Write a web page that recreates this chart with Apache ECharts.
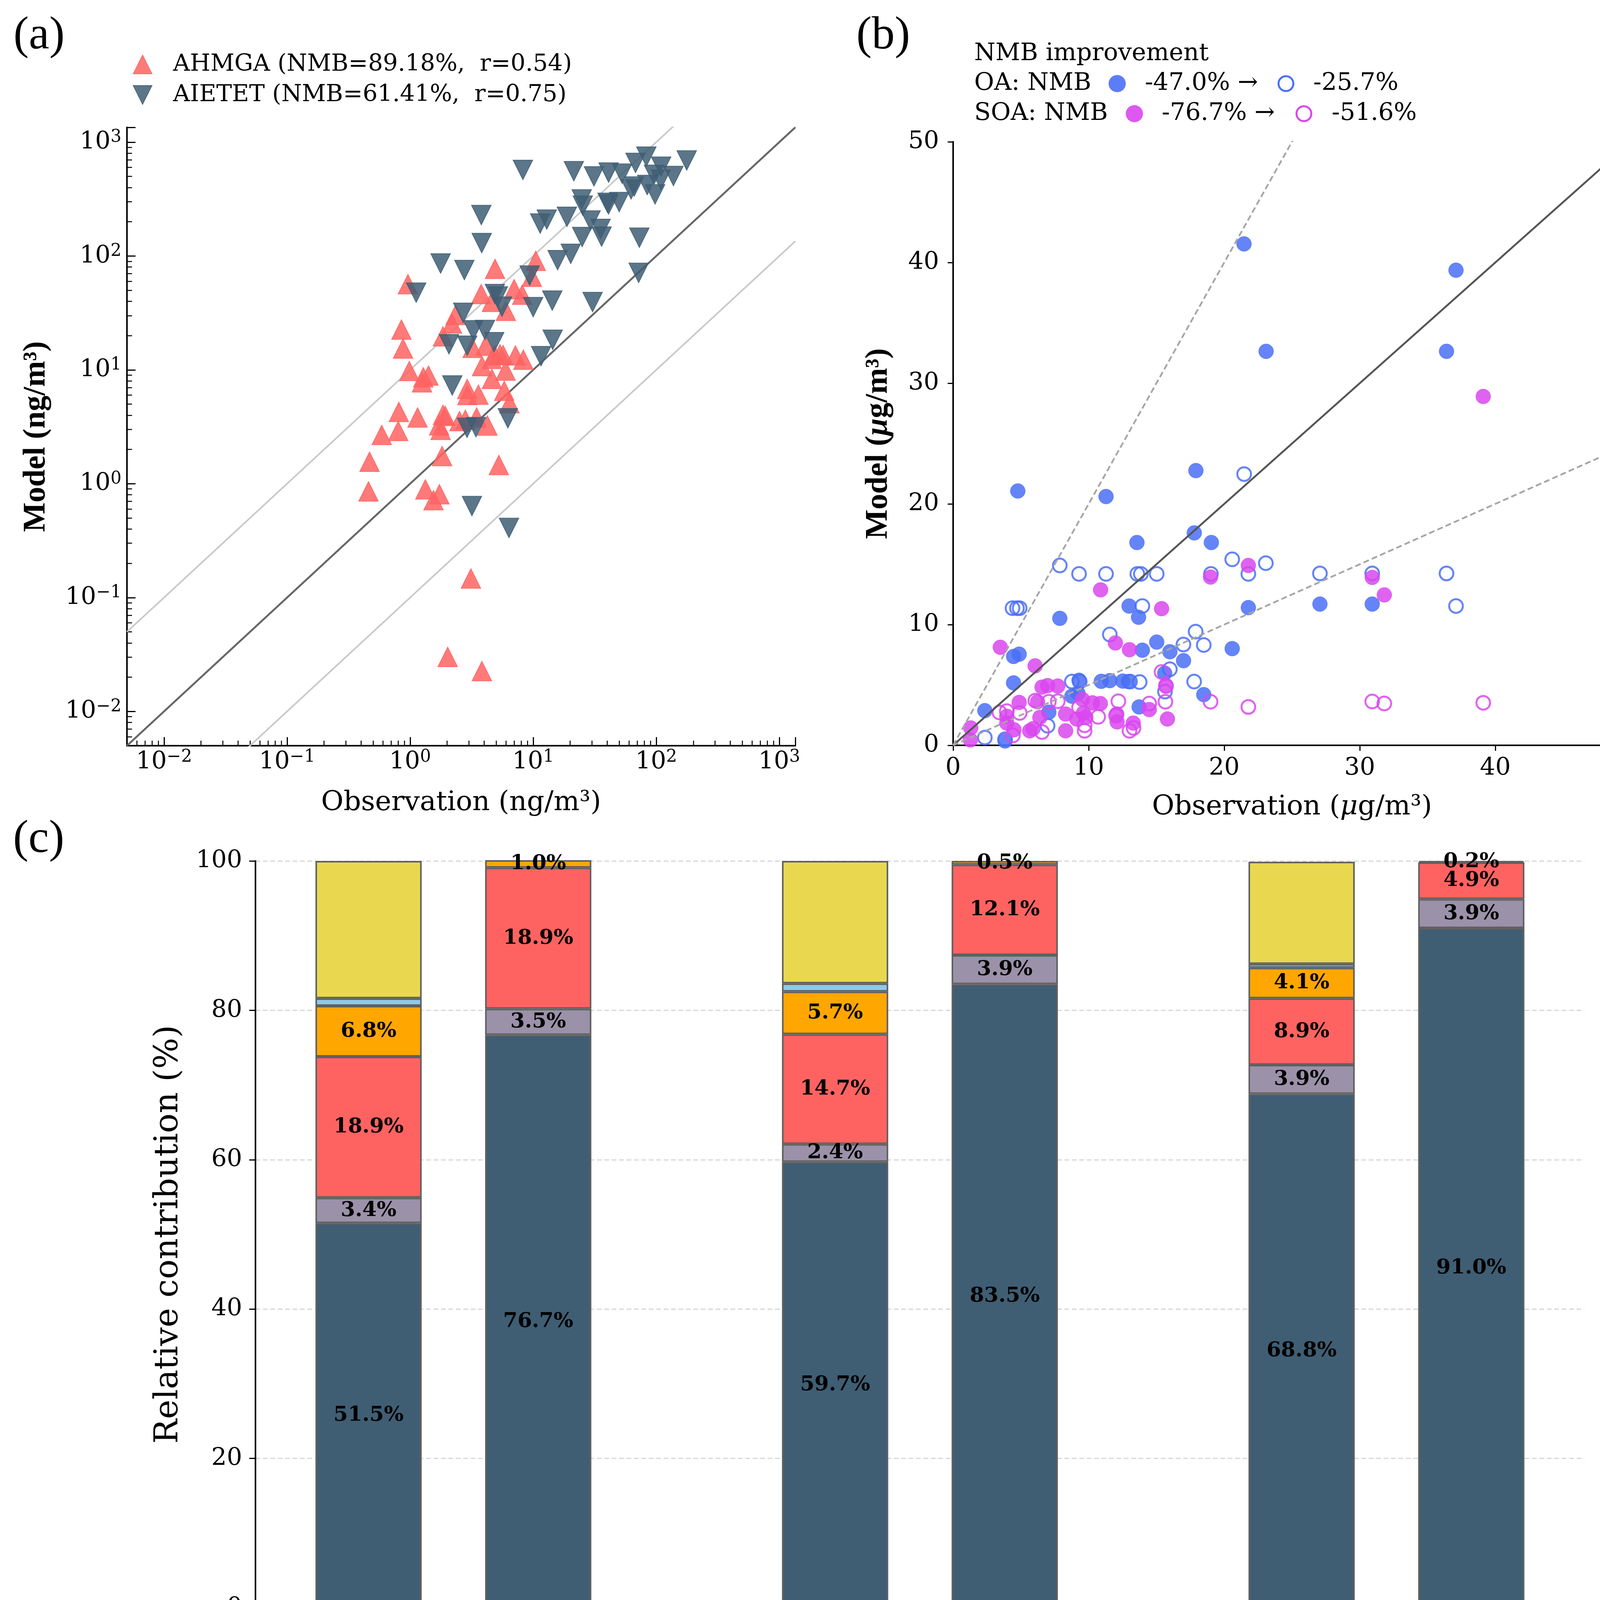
<!DOCTYPE html>
<html><head><meta charset="utf-8">
<script src="https://cdn.jsdelivr.net/npm/echarts@6/dist/echarts.min.js"></script>
<style>html,body{margin:0;padding:0;background:#fff}#main{width:4252px;height:4566px}</style>
</head><body><div id="main"></div>
<script>
// ================= DATA =================
// Panel (a): observation vs model (ng/m3)
const AHMGA_LABEL = 'AHMGA (NMB=89.18%,  r=0.54)';
const AIETET_LABEL = 'AIETET (NMB=61.41%,  r=0.75)';
const AHMGA_OBS = [10.5,4.90,0.96,9.76,7.00,8.14,3.78,4.62,6.00,2.34,2.19,1.85,0.85,0.876,3.22,4.11,4.86,5.37,5.70,7.18,8.32,3.84,4.62,5.97,4.62,0.985,1.28,1.41,1.25,2.91,2.92,3.59,5.82,0.81,1.15,1.85,1.93,0.80,0.588,1.72,1.77,2.81,3.47,4.25,6.41,0.468,1.82,5.26,2.52,0.459,1.33,1.73,1.55,3.12,2.02,3.83];
const AHMGA_MOD = [90.8,77.1,56.6,65.8,51.2,45.7,46.4,39.6,33.0,30.4,25.6,19.7,22.6,15.4,15.6,16.3,13.5,13.7,13.5,13.4,12.3,10.8,12.5,9.86,8.33,9.77,8.60,8.92,7.78,6.80,6.01,6.06,6.55,4.27,3.82,4.03,3.94,2.91,2.68,3.26,2.97,3.65,3.82,3.24,5.10,1.56,1.75,1.46,3.55,0.856,0.893,0.809,0.717,0.147,0.0301,0.0226];
const AIETET_OBS = [8.25,21.4,31.2,41.0,52.8,67.9,83.1,109.6,177,95.9,138,109,66.2,62.5,84.5,97.9,24.8,25.3,40.2,50.0,41.0,3.79,11.4,12.9,18.8,29.3,35.3,36.0,25.0,72.9,3.82,20.2,15.8,1.77,2.76,9.36,72.0,1.12,4.88,5.17,5.58,10.0,14.3,30.4,2.70,3.26,4.06,2.07,2.91,4.82,14.4,11.6,2.20,2.90,3.43,6.23,3.18,6.36];
const AIETET_MOD = [571,556,501,541,529,658,747,609,691,517,505,468,408,385,421,348,314,277,293,298,284,229,193,209,221,205,173,148,147,145,130,104.5,92.0,86.0,75.4,67.3,71.1,47.7,46.4,44.1,35.9,35.6,40.6,39.4,31.7,22.3,22.4,16.8,16.3,17.5,18.4,13.2,7.30,3.10,3.14,3.76,0.637,0.409];

// Panel (b): [observation, model] in ug/m3
const OA_BASE = [[4.77,21.07],[11.28,20.61],[17.91,22.76],[17.79,17.60],[13.56,16.80],[19.05,16.80],[12.98,11.54],[13.68,10.61],[7.87,10.52],[21.78,11.41],[4.46,7.36],[4.87,7.55],[13.96,7.88],[15.02,8.55],[15.99,7.75],[17.0,7.01],[20.59,8.01],[4.46,5.17],[15.61,5.97],[2.34,2.87],[8.76,4.07],[9.29,5.39],[9.21,4.30],[10.93,5.30],[11.56,5.36],[12.52,5.32],[12.93,5.28],[13.72,3.18],[18.49,4.20],[7.06,2.74],[3.83,0.36],[27.06,11.70],[30.92,11.70],[21.46,41.54],[37.10,39.36],[23.09,32.64],[36.40,32.64]];
const OA_UPD = [[21.47,22.47],[7.87,14.90],[9.29,14.20],[11.28,14.20],[13.59,14.20],[13.85,14.20],[15.02,14.20],[19.02,14.20],[20.59,15.41],[21.78,14.20],[23.07,15.09],[4.38,11.36],[4.71,11.36],[4.91,11.36],[13.96,11.54],[11.56,9.18],[17.89,9.42],[16.99,8.35],[18.49,8.31],[15.99,6.30],[15.63,4.45],[8.76,5.28],[9.34,5.28],[13.05,5.28],[13.76,5.24],[17.78,5.28],[6.97,1.62],[2.34,0.64],[3.83,0.50],[27.06,14.24],[30.92,14.24],[36.40,14.24],[37.10,11.54]];
const SOA_BASE = [[10.88,12.88],[15.38,11.32],[18.99,13.94],[21.78,14.90],[3.48,8.12],[6.05,6.58],[11.97,8.48],[13.01,7.92],[15.69,4.97],[15.81,2.18],[14.47,2.96],[1.30,1.44],[1.27,0.45],[6.56,4.82],[6.97,4.95],[7.72,4.91],[4.87,3.55],[3.96,2.40],[3.96,1.84],[4.49,1.29],[5.65,1.20],[5.90,1.38],[6.23,3.61],[6.40,2.31],[8.30,2.59],[8.30,1.20],[9.12,2.18],[9.54,3.80],[10.28,3.52],[10.86,3.46],[9.62,2.68],[9.79,2.31],[12.10,1.94],[12.07,2.59],[13.29,1.84],[30.92,13.91],[31.81,12.46],[39.11,28.90]];
const SOA_UPD = [[15.38,6.08],[15.66,3.61],[18.99,3.61],[21.78,3.18],[14.47,3.46],[12.19,3.65],[7.72,3.65],[7.06,3.61],[6.06,3.70],[4.91,2.68],[3.42,2.72],[3.96,2.83],[10.70,2.36],[9.70,1.20],[9.70,1.66],[6.56,1.10],[4.41,0.82],[13.01,1.20],[13.31,1.44],[12.02,2.46],[9.29,3.14],[15.71,4.91],[30.92,3.63],[31.81,3.47],[39.11,3.52]];
const NMB_TITLE = 'NMB improvement';
const NMB_OA = ['OA: NMB', '-47.0% \u2192', '-25.7%'];
const NMB_SOA = ['SOA: NMB', '-76.7% \u2192', '-51.6%'];

// Panel (c): relative contribution (%)
const CITIES = ['Beijing', 'Hefei', 'Kunming'];
const BAR_NAMES = ['Observation', 'Updated model', 'Observation', 'Updated model', 'Observation', 'Updated model'];
const SPECIES = ['AIETET', 'AIEOSN', 'AHMGA', 'AHMOSN', '3-MeTHF-3,4-diols', 'C5-Alkenetriols'];
const AIETET_PCT = [51.5, 76.7, 59.7, 83.5, 68.8, 91.0];
const AIEOSN_PCT = [3.4, 3.5, 2.4, 3.9, 3.9, 3.9];
const AHMGA_PCT  = [18.9, 18.9, 14.7, 12.1, 8.9, 4.9];
const AHMOSN_PCT = [6.8, 1.0, 5.7, 0.5, 4.1, 0.2];
const METHF_PCT  = [1.0, 0, 1.1, 0, 0.5, 0];
const C5_PCT     = [18.4, 0, 16.4, 0, 13.7, 0];

// ================= LAYOUT / STYLE =================
const FONT = 'DejaVu Serif';
const TNR = 'Liberation Serif';
const LIM_A = [0.005, 1350];
const LIM_B = [0, 50];
const SLOT = [8, 20, 41, 53, 74, 86];     // category slot of each bar
const CITY_SLOT = [14, 47, 80];
const N_SLOT = 95;
const C_AIETET = '#3f5e74', C_AIEOSN = '#9b91a9', C_AHMGA = '#ff6361', C_AHMOSN = '#ffa600', C_METHF = '#8ecae6', C_C5 = '#e9d84f';
const C_OA = '#4a6ff6', C_SOA = '#d946ef';

const zip = (a, b) => a.map((v, i) => [v, b[i]]);
const slots = Array.from({length: N_SLOT}, (_, i) => String(i));
function toSlots(vals) {
  const arr = new Array(N_SLOT).fill('-');
  SLOT.forEach((s, k) => { arr[s] = vals[k] > 0 ? vals[k] : '-'; });
  return arr;
}
function powLabel(v) {
  const e = Math.round(Math.log10(v));
  if (Math.abs(v / Math.pow(10, e) - 1) > 1e-6) return '';
  return '{b|10}{s|' + (e < 0 ? '\u2212' + (-e) : e) + '}';
}
const POW_RICH = {
  b: {fontFamily: FONT, fontSize: 62, color: '#000', lineHeight: 68},
  s: {fontFamily: FONT, fontSize: 44, color: '#000', verticalAlign: 'top', lineHeight: 44}
};
const blackLine = {lineStyle: {color: '#000', width: 4}};

function logAxis(gridIndex, extra) {
  return Object.assign({
    type: 'log', logBase: 10, gridIndex, min: LIM_A[0], max: LIM_A[1],
    axisLine: blackLine,
    axisTick: {show: true, inside: true, length: 22, lineStyle: {color: '#000', width: 3}},
    minorTick: {show: true, splitNumber: 9, length: 13, lineStyle: {color: '#000', width: 2.5}},
    splitLine: {show: false}, minorSplitLine: {show: false},
    axisLabel: {formatter: powLabel, rich: POW_RICH, showMinLabel: false, showMaxLabel: false}
  }, extra);
}
function linAxis(gridIndex, extra) {
  return Object.assign({
    type: 'value', gridIndex, min: LIM_B[0], max: LIM_B[1], interval: 10,
    axisLine: blackLine,
    axisTick: {show: true, length: 14, lineStyle: {color: '#000', width: 3}},
    splitLine: {show: false},
    axisLabel: {fontFamily: FONT, fontSize: 62, color: '#000'}
  }, extra);
}

const barSeries = (name, vals, color, showLabel) => ({
  type: 'bar', name, stack: 'total', xAxisIndex: 2, yAxisIndex: 2,
  data: toSlots(vals), barWidth: 272,
  itemStyle: {color, borderColor: '#606060', borderWidth: 4},
  label: {show: showLabel, position: 'inside', color: '#000', fontFamily: FONT, fontWeight: 'bold', fontSize: 53,
          formatter: p => Number(p.value).toFixed(1) + '%'},
  silent: true
});
const legendC = (left, names, pad) => ({
  orient: 'vertical', left, top: 4405, itemWidth: 65, itemHeight: 40, itemGap: 27, icon: 'rect', selectedMode: false,
  data: names, formatter: n => '{t|' + n + '}',
  textStyle: {rich: {t: {fontFamily: FONT, fontSize: 51, color: '#000', lineHeight: 40, padding: [0, 0, 0, pad]}}}
});

const option = {
  animation: false,
  backgroundColor: '#fff',
  textStyle: {fontFamily: FONT, color: '#000'},
  grid: [
    {left: 325, top: 326, width: 1711, height: 1583},
    {left: 2440, top: 363, width: 1735, height: 1545},
    {left: 654, top: 2204, width: 3402, height: 1912}
  ],
  xAxis: [
    logAxis(0, {name: 'Observation (ng/m\u00b3)', nameLocation: 'middle', nameGap: 112,
      nameTextStyle: {fontFamily: FONT, fontSize: 70, color: '#000'},
      axisLabel: {formatter: powLabel, rich: POW_RICH, showMinLabel: false, showMaxLabel: false, margin: 8}}),
    linAxis(1, {name: '{n|Observation (}{i|\u03bc}{n|g/m\u00b3)}', nameLocation: 'middle', nameGap: 124,
      nameTextStyle: {rich: {n: {fontFamily: FONT, fontSize: 70, color: '#000'}, i: {fontFamily: FONT, fontStyle: 'italic', fontSize: 70, color: '#000'}}},
      axisLabel: {fontFamily: FONT, fontSize: 62, color: '#000', margin: 28}}),
    {type: 'category', gridIndex: 2, data: slots, boundaryGap: false,
      axisLine: blackLine, axisTick: {show: false}, splitLine: {show: false},
      axisLabel: {interval: (i) => SLOT.indexOf(i) >= 0, formatter: (v) => BAR_NAMES[SLOT.indexOf(Number(v))] || '',
        fontFamily: FONT, fontSize: 56, color: '#000', margin: 24}},
    {type: 'category', gridIndex: 2, data: slots, boundaryGap: false, position: 'bottom',
      axisLine: {show: false}, axisTick: {show: false}, splitLine: {show: false},
      axisLabel: {interval: (i) => CITY_SLOT.indexOf(i) >= 0, formatter: (v) => CITIES[CITY_SLOT.indexOf(Number(v))] || '',
        fontFamily: FONT, fontSize: 74, fontWeight: 'bold', color: '#000', margin: 121}}
  ],
  yAxis: [
    logAxis(0, {name: 'Model (ng/m\u00b3)', nameLocation: 'middle', nameGap: 192, nameRotate: 90,
      nameTextStyle: {fontFamily: TNR, fontWeight: 'bold', fontSize: 80, color: '#000'},
      axisLabel: {formatter: powLabel, rich: POW_RICH, showMinLabel: false, showMaxLabel: false, margin: 14}}),
    linAxis(1, {name: '{b|Model (}{i|\u03bc}{b|g/m\u00b3)}', nameLocation: 'middle', nameGap: 151, nameRotate: 90,
      nameTextStyle: {rich: {b: {fontFamily: TNR, fontWeight: 'bold', fontSize: 80, color: '#000'}, i: {fontFamily: TNR, fontWeight: 'bold', fontStyle: 'italic', fontSize: 80, color: '#000'}}},
      axisLabel: {fontFamily: FONT, fontSize: 62, color: '#000', margin: 36}}),
    {type: 'value', gridIndex: 2, min: 0, max: 100, interval: 20,
      name: 'Relative contribution (%)', nameLocation: 'middle', nameGap: 180, nameRotate: 90,
      nameTextStyle: {fontFamily: FONT, fontSize: 84, color: '#000'},
      axisLine: {show: true, lineStyle: {color: '#000', width: 4}},
      axisTick: {show: true, length: 16, lineStyle: {color: '#000', width: 3}},
      splitLine: {show: true, lineStyle: {color: '#d0d0d0', width: 2.5, type: [12, 7]}},
      axisLabel: {fontFamily: FONT, fontSize: 62, color: '#000', margin: 34}}
  ],
  legend: [
    {orient: 'vertical', left: 335, top: 130, itemWidth: 48, itemHeight: 48, itemGap: 18, selectedMode: false,
      data: [{name: AHMGA_LABEL, icon: 'path://M5,0 L10,10 L0,10 Z'}, {name: AIETET_LABEL, icon: 'path://M0,0 L10,0 L5,10 Z'}],
      formatter: n => '{t|' + n + '}',
      textStyle: {rich: {t: {fontFamily: FONT, fontSize: 60, color: '#000', lineHeight: 48, padding: [0, 0, 0, 49]}}}},
    legendC(1659, ['3-MeTHF-3,4-diols', 'C5-Alkenetriols'], 20),
    legendC(2315, ['AIETET', 'AIEOSN'], 18),
    legendC(2703, ['AHMGA', 'AHMOSN'], 20)
  ],
  graphic: [
    {type: 'text', x: 100, y: 93, style: {text: '(a)', font: '118px "Liberation Serif"', fill: '#000', align: 'center', verticalAlign: 'middle'}},
    {type: 'text', x: 2261, y: 93, style: {text: '(b)', font: '118px "Liberation Serif"', fill: '#000', align: 'center', verticalAlign: 'middle'}},
    {type: 'text', x: 99, y: 2150, style: {text: '(c)', font: '118px "Liberation Serif"', fill: '#000', align: 'center', verticalAlign: 'middle'}},
    {type: 'text', x: 2494, y: 138, style: {text: NMB_TITLE, font: '62px "DejaVu Serif"', fill: '#000', verticalAlign: 'middle'}},
    {type: 'text', x: 2494, y: 214, style: {text: NMB_OA[0], font: '62px "DejaVu Serif"', fill: '#000', verticalAlign: 'middle'}},
    {type: 'circle', shape: {cx: 2860, cy: 214, r: 22}, style: {fill: C_OA, opacity: 0.9}},
    {type: 'text', x: 2931, y: 214, style: {text: NMB_OA[1], font: '62px "DejaVu Serif"', fill: '#000', verticalAlign: 'middle'}},
    {type: 'circle', shape: {cx: 3292, cy: 214, r: 19}, style: {fill: 'none', stroke: C_OA, lineWidth: 5}},
    {type: 'text', x: 3362, y: 214, style: {text: NMB_OA[2], font: '62px "DejaVu Serif"', fill: '#000', verticalAlign: 'middle'}},
    {type: 'text', x: 2494, y: 291, style: {text: NMB_SOA[0], font: '62px "DejaVu Serif"', fill: '#000', verticalAlign: 'middle'}},
    {type: 'circle', shape: {cx: 2904, cy: 291, r: 22}, style: {fill: C_SOA, opacity: 0.9}},
    {type: 'text', x: 2974, y: 291, style: {text: NMB_SOA[1], font: '62px "DejaVu Serif"', fill: '#000', verticalAlign: 'middle'}},
    {type: 'circle', shape: {cx: 3338, cy: 291, r: 19}, style: {fill: 'none', stroke: C_SOA, lineWidth: 5}},
    {type: 'text', x: 3409, y: 291, style: {text: NMB_SOA[2], font: '62px "DejaVu Serif"', fill: '#000', verticalAlign: 'middle'}}
  ],
  series: [
    // ---- panel (a) ----
    {type: 'line', xAxisIndex: 0, yAxisIndex: 0, data: LIM_A.map(v => [v, v * 10]), symbol: 'none', silent: true, clip: true,
      lineStyle: {color: '#c8c8c8', width: 4}, z: 1},
    {type: 'line', xAxisIndex: 0, yAxisIndex: 0, data: LIM_A.map(v => [v, v / 10]), symbol: 'none', silent: true, clip: true,
      lineStyle: {color: '#c8c8c8', width: 4}, z: 1},
    {type: 'line', xAxisIndex: 0, yAxisIndex: 0, data: LIM_A.map(v => [v, v]), symbol: 'none', silent: true, clip: true,
      lineStyle: {color: '#666666', width: 5}, z: 1},
    {type: 'scatter', name: AHMGA_LABEL, xAxisIndex: 0, yAxisIndex: 0, data: zip(AHMGA_OBS, AHMGA_MOD),
      symbol: 'triangle', symbolSize: 50, itemStyle: {color: C_AHMGA, opacity: 0.85, borderColor: C_AHMGA, borderWidth: 2}, z: 3},
    {type: 'scatter', name: AIETET_LABEL, xAxisIndex: 0, yAxisIndex: 0, data: zip(AIETET_OBS, AIETET_MOD),
      symbol: 'triangle', symbolRotate: 180, symbolSize: 50, itemStyle: {color: C_AIETET, opacity: 0.85, borderColor: C_AIETET, borderWidth: 2}, z: 4},
    // ---- panel (b) ----
    {type: 'scatter', name: 'OA base', xAxisIndex: 1, yAxisIndex: 1, data: OA_BASE, symbolSize: 38,
      itemStyle: {color: C_OA, opacity: 0.85, borderColor: C_OA, borderWidth: 1}, z: 3},
    {type: 'scatter', name: 'OA updated', xAxisIndex: 1, yAxisIndex: 1, data: OA_UPD, symbolSize: 35,
      itemStyle: {color: 'rgba(255,255,255,0)', borderColor: C_OA, borderWidth: 5, opacity: 0.85}, z: 3},
    {type: 'scatter', name: 'SOA base', xAxisIndex: 1, yAxisIndex: 1, data: SOA_BASE, symbolSize: 38,
      itemStyle: {color: C_SOA, opacity: 0.85, borderColor: C_SOA, borderWidth: 1}, z: 3},
    {type: 'scatter', name: 'SOA updated', xAxisIndex: 1, yAxisIndex: 1, data: SOA_UPD, symbolSize: 35,
      itemStyle: {color: 'rgba(255,255,255,0)', borderColor: C_SOA, borderWidth: 5, opacity: 0.85}, z: 3},
    {type: 'line', xAxisIndex: 1, yAxisIndex: 1, data: LIM_B.map(v => [v, v]), symbol: 'none', silent: true, clip: true,
      lineStyle: {color: '#555555', width: 5}, z: 5},
    {type: 'line', xAxisIndex: 1, yAxisIndex: 1, data: LIM_B.map(v => [v, v * 2]), symbol: 'none', silent: true, clip: true,
      lineStyle: {color: '#a6a6a6', width: 4.5, type: [15, 8]}, z: 5},
    {type: 'line', xAxisIndex: 1, yAxisIndex: 1, data: LIM_B.map(v => [v, v / 2]), symbol: 'none', silent: true, clip: true,
      lineStyle: {color: '#a6a6a6', width: 4.5, type: [15, 8]}, z: 5},
    // ---- panel (c) ----
    barSeries(SPECIES[0], AIETET_PCT, C_AIETET, true),
    barSeries(SPECIES[1], AIEOSN_PCT, C_AIEOSN, true),
    barSeries(SPECIES[2], AHMGA_PCT, C_AHMGA, true),
    barSeries(SPECIES[3], AHMOSN_PCT, C_AHMOSN, true),
    barSeries(SPECIES[4], METHF_PCT, C_METHF, false),
    barSeries(SPECIES[5], C5_PCT, C_C5, false)
  ]
};
const chart = echarts.init(document.getElementById('main'), null, {width: 4252, height: 4566, devicePixelRatio: 1});
chart.setOption(option);
</script>
</body></html>
